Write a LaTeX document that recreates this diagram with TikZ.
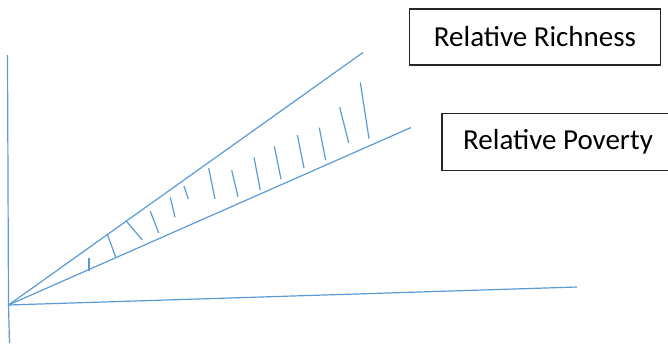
\documentclass[tikz,border=0pt]{standalone}
\usepackage{fontspec}
\setmainfont{Carlito}
\usepackage{tikz}
\usetikzlibrary{positioning}
\definecolor{lineblue}{HTML}{5B9BD5}

\begin{document}
\begin{tikzpicture}[x=1pt,y=-1pt,
  axis/.style={lineblue,line width=1.2pt},
  hatch/.style={lineblue,line width=1.2pt},
  labelbox/.style={draw=black!85,line width=1.2pt,inner sep=0pt,
    font=\fontsize{29}{34}\selectfont}]
  \useasboundingbox (0,0) rectangle (668,343);
  \clip (0,0) rectangle (668,343);
  % axes
  \coordinate (O) at (8.5,305);
  \coordinate (ytop) at (7.5,55);
  \coordinate (ybot) at (9.5,343);
  \coordinate (xend) at (577,287);
  \draw[axis] (ytop) -- (O) -- (ybot);
  \draw[axis] (O) -- (xend);
  % the two rays
  \coordinate (rich) at (363,52.5);
  \coordinate (poor) at (411,127.5);
  \draw[axis] (O) -- (rich);
  \draw[axis] (O) -- (poor);
  % hatching between them
  \foreach \xa/\ya/\xb/\yb in {89/258/89/271, 107.3/234/115.7/257.3,
      126/220.7/142.3/240, 150.3/211.3/158.7/233, 170.3/197.3/175/217.3,
      184/186/188.3/199, 208.7/168.3/215/199, 231.7/170.3/238/196.7,
      254/157.3/260.3/190.3, 274.3/146.3/281/179, 297.3/135/304/168,
      319.3/127.7/325.7/160.3, 339.7/107.3/348.7/142.7, 360.3/82.3/369/138.7}
    \draw[hatch] (\xa,\ya) -- (\xb,\yb);
  % labels
  \node[labelbox,minimum width=251pt,minimum height=56pt] (richness) at (535,37) {Relative Richness};
  \node[labelbox,minimum width=232pt,minimum height=57pt] (poverty) at (558,141.7) {Relative Poverty};
\end{tikzpicture}
\end{document}
